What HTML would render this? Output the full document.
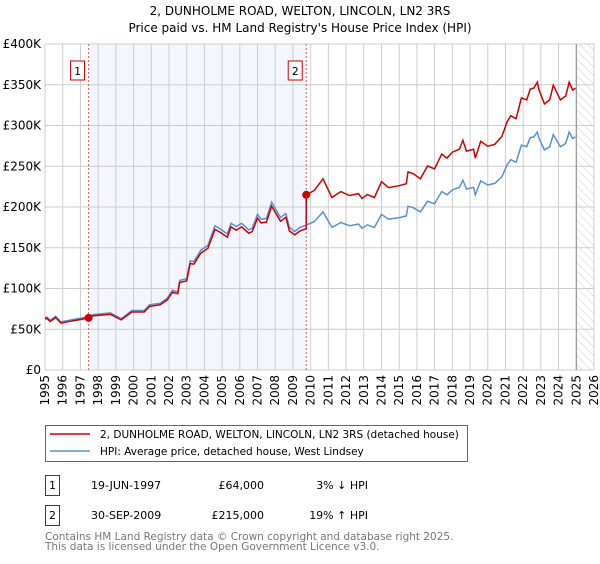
<!DOCTYPE html>
<html><head><meta charset="utf-8"><style>
body{margin:0;background:#fff;font-family:"DejaVu Sans","Liberation Sans",sans-serif;}
svg text{font-family:"DejaVu Sans","Liberation Sans",sans-serif;}
</style></head><body>
<svg id="chart" width="600" height="560" xmlns="http://www.w3.org/2000/svg"></svg>
<script>
const hpiYears=[1995.0,1995.1,1995.3,1995.6,1995.9,1996.6,1997.4,1997.7,1998.7,1999.3,1999.9,2000.6,2000.9,2001.5,2001.9,2002.2,2002.5,2002.6,2003.0,2003.2,2003.4,2003.8,2004.2,2004.6,2004.9,2005.3,2005.5,2005.8,2006.1,2006.5,2006.7,2007.0,2007.2,2007.5,2007.8,2008.3,2008.6,2008.8,2009.1,2009.4,2009.78,2010.2,2010.7,2011.2,2011.7,2012.2,2012.7,2012.9,2013.2,2013.6,2014.0,2014.4,2015.0,2015.4,2015.5,2015.8,2016.2,2016.6,2017.0,2017.4,2017.7,2018.0,2018.4,2018.6,2018.8,2019.2,2019.3,2019.6,2020.0,2020.4,2020.8,2021.1,2021.3,2021.6,2021.9,2022.2,2022.4,2022.6,2022.8,2022.9,2023.2,2023.5,2023.7,2024.1,2024.4,2024.6,2024.8,2024.95];
const hpiValues=[64,65,61,66,59,62,65,68,70,63,73,73,80,82,88,98,96,110,112,134,133,147,153,177,173,167,180,176,180,172,174,191,185,186,206,187,192,175,170,175,178,182,194,175,181,177,179,174,178,175,191,185,187,189,201,199,194,207,204,219,215,221,224,233,222,224,215,232,227,229,237,252,258,255,276,274,285,286,292,284,270,274,289,274,278,292,284,286];
const saleYears=[1997.46,2009.75];
const salePrices=[64,215];
const yTicks=[0,50,100,150,200,250,300,350,400];
const yTickLabels=["£0","£50K","£100K","£150K","£200K","£250K","£300K","£350K","£400K"];
const xTicks=[1995,1996,1997,1998,1999,2000,2001,2002,2003,2004,2005,2006,2007,2008,2009,2010,2011,2012,2013,2014,2015,2016,2017,2018,2019,2020,2021,2022,2023,2024,2025,2026];

const svg=document.getElementById('chart');
const NS='http://www.w3.org/2000/svg';
const L=45,R=594,T=44,B=370;
const X=y=>L+(y-1995)/(2026-1995)*(R-L);
const Y=v=>B-v/400*(B-T);
function el(tag,attrs,parent){const e=document.createElementNS(NS,tag);for(const k in attrs)e.setAttribute(k,attrs[k]);(parent||svg).appendChild(e);return e;}
function txt(s,attrs){const e=el('text',attrs);e.textContent=s;return e;}

let t=txt('2, DUNHOLME ROAD, WELTON, LINCOLN, LN2 3RS',{x:300,y:15,'text-anchor':'middle','font-size':12});

t=txt("Price paid vs. HM Land Registry's House Price Index (HPI)",{x:300,y:32,'text-anchor':'middle','font-size':12});


let sh=el('rect',{x:X(saleYears[0]),y:T,width:X(saleYears[1])-X(saleYears[0]),height:B-T,fill:'#eef3fc',opacity:0.7});

const defs=el('defs',{});
const pat=el('pattern',{id:'hatch',width:6,height:6,patternUnits:'userSpaceOnUse',patternTransform:'rotate(-45)'},defs);
el('line',{x1:0,y1:0,x2:0,y2:6,stroke:'#ccc','stroke-width':1},pat);
let hz=el('rect',{x:X(2025),y:T,width:R-X(2025),height:B-T,fill:'url(#hatch)'});


const grid=el('g',{stroke:'#ccc','stroke-width':1});

xTicks.forEach(yr=>{el('line',{x1:X(yr),y1:T,x2:X(yr),y2:B},grid);});
yTicks.forEach(v=>{el('line',{x1:L,y1:Y(v),x2:R,y2:Y(v)},grid);});
el('line',{x1:X(2025),y1:T,x2:X(2025),y2:B,stroke:'#888','stroke-width':1});

yTicks.forEach((v,i)=>{const e=txt(yTickLabels[i],{x:L-4,y:Y(v)+4,'text-anchor':'end','font-size':12});
});
xTicks.forEach(yr=>{const e=txt(String(yr),{x:0,y:0,'text-anchor':'end','font-size':12,transform:`translate(${X(yr)+4},${B+5}) rotate(-90)`});
});

saleYears.forEach((yr,i)=>{
  const l=el('line',{x1:X(yr),y1:T,x2:X(yr),y2:B,stroke:'#e06060','stroke-width':1,'stroke-dasharray':'2,2'});
  
  const bx=X(yr)-18;
  const r=el('rect',{x:bx,y:61,width:14,height:19,fill:'#fff',stroke:'#c00','stroke-width':1});
  
  txt(String(i+1),{x:bx+7,y:75,'text-anchor':'middle','font-size':11});
});

function hpiAt(yr){for(let i=1;i<hpiYears.length;i++){if(hpiYears[i]>=yr){const f=(yr-hpiYears[i-1])/(hpiYears[i]-hpiYears[i-1]);return hpiValues[i-1]+f*(hpiValues[i]-hpiValues[i-1]);}}return hpiValues[hpiValues.length-1];}
const f1=salePrices[0]/hpiAt(saleYears[0]),f2=salePrices[1]/hpiAt(saleYears[1]);
let bp='',rp='';
hpiYears.forEach((yr,i)=>{bp+=(i?'L':'M')+X(yr).toFixed(1)+','+Y(hpiValues[i]).toFixed(1);});
let first=true;
hpiYears.forEach((yr,i)=>{
  if(yr>saleYears[1]&&hpiYears[i-1]<=saleYears[1]){
    rp+='L'+X(saleYears[1]).toFixed(1)+','+Y(hpiAt(saleYears[1])*f1).toFixed(1);
    rp+='L'+X(saleYears[1]).toFixed(1)+','+Y(salePrices[1]).toFixed(1);
  }
  const f=yr<=saleYears[1]?f1:f2;
  rp+=(first?'M':'L')+X(yr).toFixed(1)+','+Y(hpiValues[i]*f).toFixed(1);first=false;
});
let bl=el('path',{d:bp,fill:'none',stroke:'#5b8fd0','stroke-width':1.5});

let rl=el('path',{d:rp,fill:'none',stroke:'#cc0000','stroke-width':1.5});

saleYears.forEach((yr,i)=>{const c=el('circle',{cx:X(yr),cy:Y(salePrices[i]),r:4,fill:'#cc0000'});
});

const lg=el('g',{});

el('rect',{x:45.5,y:425.5,width:422,height:36,fill:'#fff',stroke:'#666'},lg);
el('line',{x1:50,y1:434,x2:90,y2:434,stroke:'#cc0000','stroke-width':1.5},lg);
el('line',{x1:50,y1:451,x2:90,y2:451,stroke:'#5b8fd0','stroke-width':1.5},lg);
txt('2, DUNHOLME ROAD, WELTON, LINCOLN, LN2 3RS (detached house)',{x:100,y:438,'font-size':10.5});
txt('HPI: Average price, detached house, West Lindsey',{x:100,y:455,'font-size':10.5});

const rows=[['1','19-JUN-1997','£64,000','3% ↓ HPI'],['2','30-SEP-2009','£215,000','19% ↑ HPI']];
rows.forEach((r,i)=>{const y0=475+i*30;
  const b=el('rect',{x:45.5,y:y0+0.5,width:14,height:20,fill:'#fff',stroke:'#c00'});
  
  txt(r[0],{x:52.5,y:y0+14,'text-anchor':'middle','font-size':11});
  txt(r[1],{x:91,y:y0+14,'font-size':11});
  txt(r[2],{x:264,y:y0+14,'text-anchor':'end','font-size':11});
  txt(r[3],{x:368,y:y0+14,'text-anchor':'end','font-size':11});
});
txt('Contains HM Land Registry data © Crown copyright and database right 2025.',{x:45,y:540,'font-size':10.5,fill:'#777'});
txt('This data is licensed under the Open Government Licence v3.0.',{x:45,y:550,'font-size':10.5,fill:'#777'});
</script>
</body></html>
